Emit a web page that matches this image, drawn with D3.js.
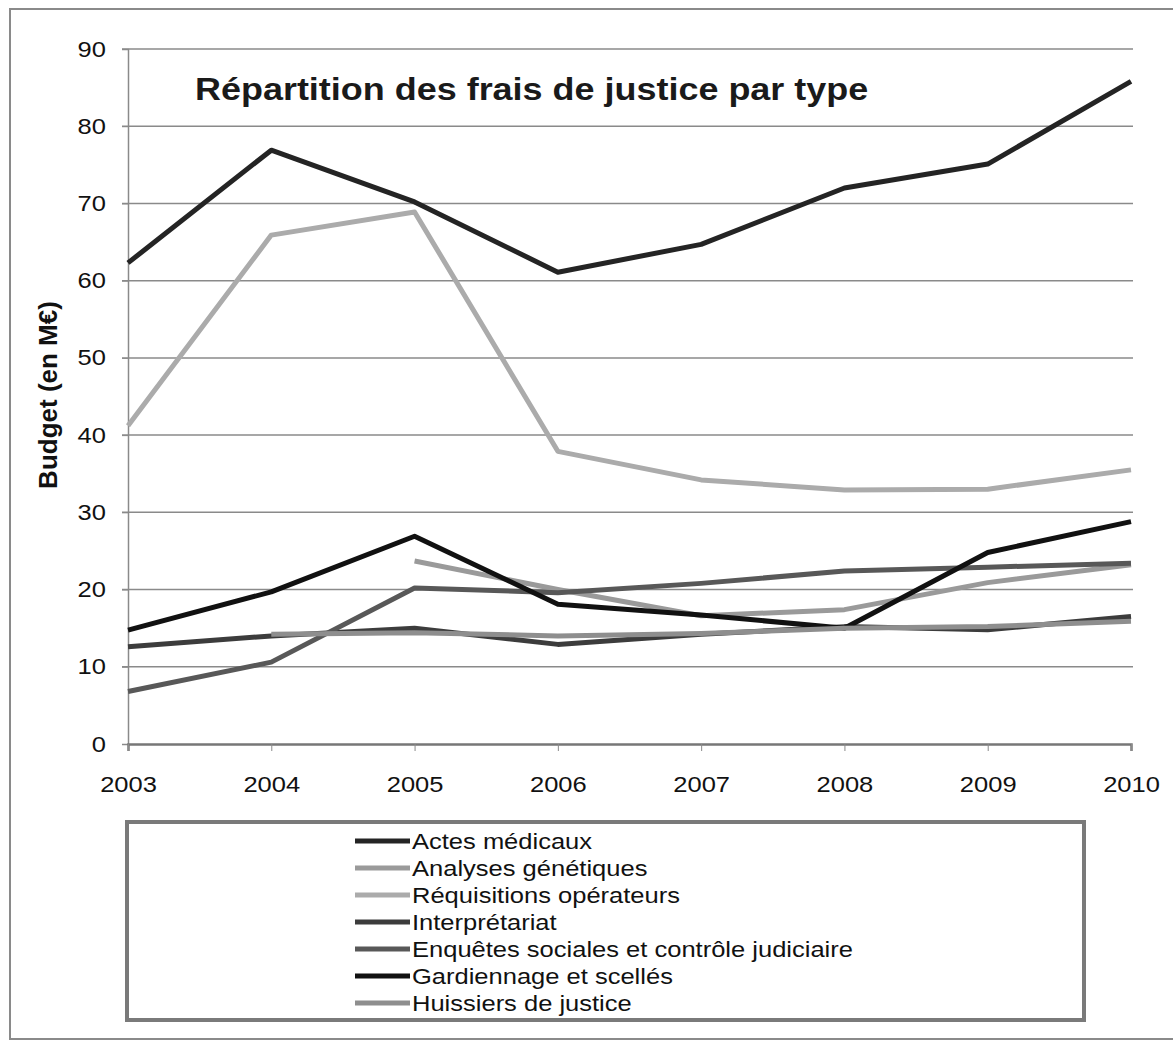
<!DOCTYPE html>
<html>
<head>
<meta charset="utf-8">
<script src="https://cdn.jsdelivr.net/npm/d3@7"></script>
<style>
	body { margin: 0; background: #fff; }
	svg { display: block; font-family: "Liberation Sans", Arial, sans-serif; }
	.tick text { fill: #111; }
</style>
</head>
<body>
<svg id="chart" width="1173" height="1041"></svg>
<script>
// data (M€)
const years = [2003, 2004, 2005, 2006, 2007, 2008, 2009, 2010];
const seriesNames = [
	"Actes médicaux",
	"Analyses génétiques",
	"Réquisitions opérateurs",
	"Interprétariat",
	"Enquêtes sociales et contrôle judiciaire",
	"Gardiennage et scellés",
	"Huissiers de justice"
];
const actes = [62.3, 76.9, 70.2, 61.1, 64.7, 72.0, 75.1, 85.8];
const analyses = [null, null, 23.7, 20.0, 16.6, 17.4, 20.9, 23.2];
const requisitions = [41.2, 65.9, 68.9, 37.9, 34.2, 32.9, 33.0, 35.5];
const interpretariat = [12.6, 14.0, 15.0, 12.9, 14.2, 15.2, 14.8, 16.5];
const enquetes = [6.8, 10.6, 20.2, 19.6, 20.8, 22.4, 22.9, 23.4];
const gardiennage = [14.75, 19.7, 26.9, 18.1, 16.7, 15.0, 24.8, 28.8];
const huissiers = [null, 14.2, 14.4, 14.0, 14.3, 15.0, 15.2, 15.9];
const yTicks = [0, 10, 20, 30, 40, 50, 60, 70, 80, 90];

const seriesValues = [actes, analyses, requisitions, interpretariat, enquetes, gardiennage, huissiers];
const colors = ["#242424", "#9a9a9a", "#ababab", "#3c3c3c", "#585858", "#111111", "#8e8e8e"];

const stretch = 1.16; // the scanned chart is a bit wider than tall

const svg = d3.select("#chart");

// outer frame
svg.append("rect")
	.attr("x", 10).attr("y", 9)
	.attr("width", 1200).attr("height", 1030)
	.attr("fill", "none").attr("stroke", "#8a8a8a").attr("stroke-width", 2);

const x = d3.scalePoint().domain(years).range([128, 1131]);
const y = d3.scaleLinear().domain([0, 90]).range([744, 49]);

// horizontal gridlines
svg.append("g")
	.selectAll("line")
	.data(yTicks.filter((d) => d > 0))
	.enter()
	.append("line")
	.attr("x1", 122).attr("x2", 1133)
	.attr("y1", (d) => y(d)).attr("y2", (d) => y(d))
	.attr("stroke", "#8a8a8a").attr("stroke-width", 1.5);

// y axis
const yAxis = svg.append("g")
	.attr("transform", "translate(128,0)")
	.call(d3.axisLeft(y).tickValues(yTicks).tickSize(6).tickPadding(14));
yAxis.select(".domain").attr("stroke", "#8a8a8a").attr("stroke-width", 1.5);
yAxis.selectAll(".tick line").attr("stroke", "#8a8a8a");
yAxis.selectAll(".tick text")
	.attr("font-size", 22)
	.attr("x", 0)
	.attr("transform", `translate(-22,0) scale(${stretch},1)`);

// x axis
const xAxis = svg.append("g")
	.attr("transform", "translate(0,744)")
	.call(d3.axisBottom(x).tickSize(7).tickPadding(25).tickFormat(d3.format("d")));
xAxis.select(".domain").attr("stroke", "#777").attr("stroke-width", 2.5);
xAxis.selectAll(".tick line").attr("stroke", "#8a8a8a");
xAxis.selectAll(".tick text")
	.attr("font-size", 22)
	.attr("transform", `scale(${stretch},1)`);

// y axis title
svg.append("text")
	.attr("transform", "translate(57,395) rotate(-90)")
	.attr("text-anchor", "middle")
	.attr("font-size", 26)
	.attr("font-weight", "bold")
	.attr("fill", "#111")
	.text("Budget (en M€)");

// chart title
svg.append("text")
	.attr("transform", `translate(195,100) scale(${stretch},1)`)
	.attr("font-size", 31)
	.attr("font-weight", "bold")
	.attr("fill", "#1a1a1a")
	.text("Répartition des frais de justice par type");

// series lines
const line = d3.line()
	.defined((d) => d.v !== null)
	.x((d) => x(d.year))
	.y((d) => y(d.v));

seriesValues.forEach((vals, i) => {
	svg.append("path")
		.datum(years.map((yr, j) => ({ year: yr, v: vals[j] })))
		.attr("d", line)
		.attr("fill", "none")
		.attr("stroke", colors[i])
		.attr("stroke-width", 5)
		.attr("stroke-linejoin", "round");
});

// legend
const legend = svg.append("g");
legend.append("rect")
	.attr("x", 127).attr("y", 822)
	.attr("width", 957).attr("height", 198)
	.attr("fill", "none").attr("stroke", "#7a7a7a").attr("stroke-width", 4);

seriesNames.forEach((name, i) => {
	const cy = 841 + i * 27;
	legend.append("line")
		.attr("x1", 355).attr("x2", 410)
		.attr("y1", cy).attr("y2", cy)
		.attr("stroke", colors[i]).attr("stroke-width", 5);
	legend.append("text")
		.attr("transform", `translate(412,${cy + 8}) scale(${stretch},1)`)
		.attr("font-size", 22)
		.attr("fill", "#111")
		.text(name);
});
</script>
</body>
</html>
